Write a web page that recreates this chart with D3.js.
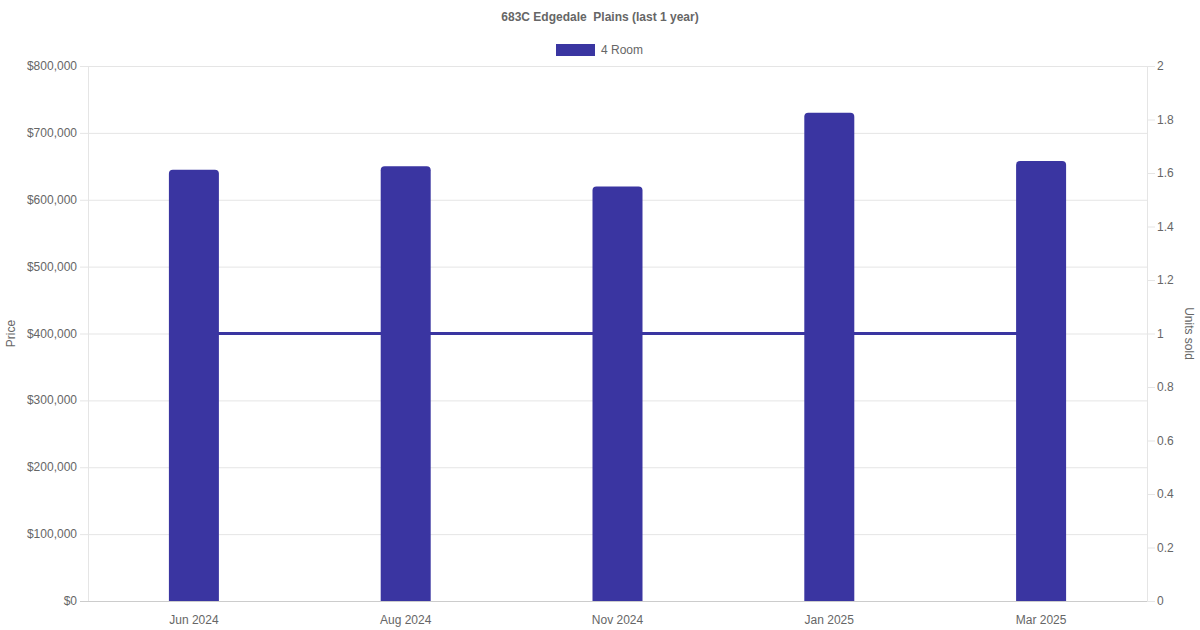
<!DOCTYPE html>
<html><head><meta charset="utf-8">
<script src="https://cdn.jsdelivr.net/npm/d3@7/dist/d3.min.js"></script>
<style>body{margin:0;background:#fff}svg{display:block;font-family:"Liberation Sans",Arial,Helvetica,sans-serif}</style>
</head><body><svg id="c" width="1200" height="630"></svg>
<script>
const categories = ["Jun 2024","Aug 2024","Nov 2024","Jan 2025","Mar 2025"];
const prices = [645000, 650000, 620000, 730000, 658000];
const units = [1, 1, 1, 1, 1];
const priceTicks = [0,100000,200000,300000,400000,500000,600000,700000,800000];
const unitTicks = [0,0.2,0.4,0.6,0.8,1,1.2,1.4,1.6,1.8,2];
const seriesName = "4 Room";
const titleText = "683C Edgedale  Plains (last 1 year)";

const color = "#3a35a1";
const svg = d3.select("#c");
const L = 88, R = 1147, T = 66, B = 601;
const x = d3.scaleBand().domain(categories).range([L, R]);
const y = d3.scaleLinear().domain([0, 800000]).range([B, T]);
const y2 = d3.scaleLinear().domain([0, 2]).range([B, T]);

svg.append("text").attr("x", 600).attr("y", 21).attr("text-anchor", "middle")
  .style("white-space", "pre")
  .attr("font-size", 12).attr("font-weight", "bold").attr("fill", "#666").text(titleText);

// legend
svg.append("rect").attr("x", 556).attr("y", 44).attr("width", 39).attr("height", 12).attr("fill", color);
svg.append("text").attr("x", 601).attr("y", 54).attr("font-size", 12).attr("fill", "#666").text(seriesName);

// grid
svg.append("g").selectAll("line").data(priceTicks).join("line")
  .attr("x1", L - 8).attr("x2", R).attr("y1", d => y(d) + 0.5).attr("y2", d => y(d) + 0.5)
  .attr("stroke", d => d === 0 ? "#ccc" : "#e5e5e5").attr("stroke-width", 1);
// right ticks
svg.append("g").selectAll("line").data(unitTicks).join("line")
  .attr("x1", R).attr("x2", R + 8).attr("y1", d => y2(d) + 0.5).attr("y2", d => y2(d) + 0.5)
  .attr("stroke", "#e5e5e5");
// axis borders
svg.append("line").attr("x1", L + 0.5).attr("x2", L + 0.5).attr("y1", T).attr("y2", B).attr("stroke", "#e5e5e5");
svg.append("line").attr("x1", R + 0.5).attr("x2", R + 0.5).attr("y1", T).attr("y2", B).attr("stroke", "#e5e5e5");

// left tick labels
const fmt = d => "$" + d3.format(",")(d);
svg.append("g").selectAll("text").data(priceTicks).join("text")
  .attr("x", L - 11).attr("y", d => y(d) + 4).attr("text-anchor", "end")
  .attr("font-size", 12).attr("fill", "#666").text(fmt);
svg.append("g").selectAll("text").data(unitTicks).join("text")
  .attr("x", R + 10).attr("y", d => y2(d) + 4).attr("text-anchor", "start")
  .attr("font-size", 12).attr("fill", "#666").text(d => d3.format("~g")(d));
// x labels
svg.append("g").selectAll("text").data(categories).join("text")
  .attr("x", d => x(d) + x.bandwidth() / 2).attr("y", 624).attr("text-anchor", "middle")
  .attr("font-size", 12).attr("fill", "#666").text(d => d);

// axis titles
svg.append("text").attr("transform", `translate(15,${(T + B) / 2}) rotate(-90)`).attr("text-anchor", "middle")
  .attr("font-size", 12).attr("fill", "#666").text("Price");
svg.append("text").attr("transform", `translate(1185,${(T + B) / 2}) rotate(90)`).attr("text-anchor", "middle")
  .attr("font-size", 12).attr("fill", "#666").text("Units sold");

// line
const line = d3.line().x((d, i) => x(categories[i]) + x.bandwidth() / 2).y(d => y2(d));
svg.append("path").datum(units).attr("d", line).attr("fill", "none").attr("stroke", color).attr("stroke-width", 3);

// bars with rounded top
const bw = 50, r = 4;
svg.append("g").selectAll("path").data(prices).join("path")
  .attr("d", (d, i) => {
    const cx = x(categories[i]) + x.bandwidth() / 2;
    const x0 = cx - bw / 2, x1 = cx + bw / 2, yt = y(d), yb = y(0);
    return `M${x0},${yb}V${yt + r}Q${x0},${yt} ${x0 + r},${yt}H${x1 - r}Q${x1},${yt} ${x1},${yt + r}V${yb}Z`;
  })
  .attr("fill", color);
</script></body></html>
